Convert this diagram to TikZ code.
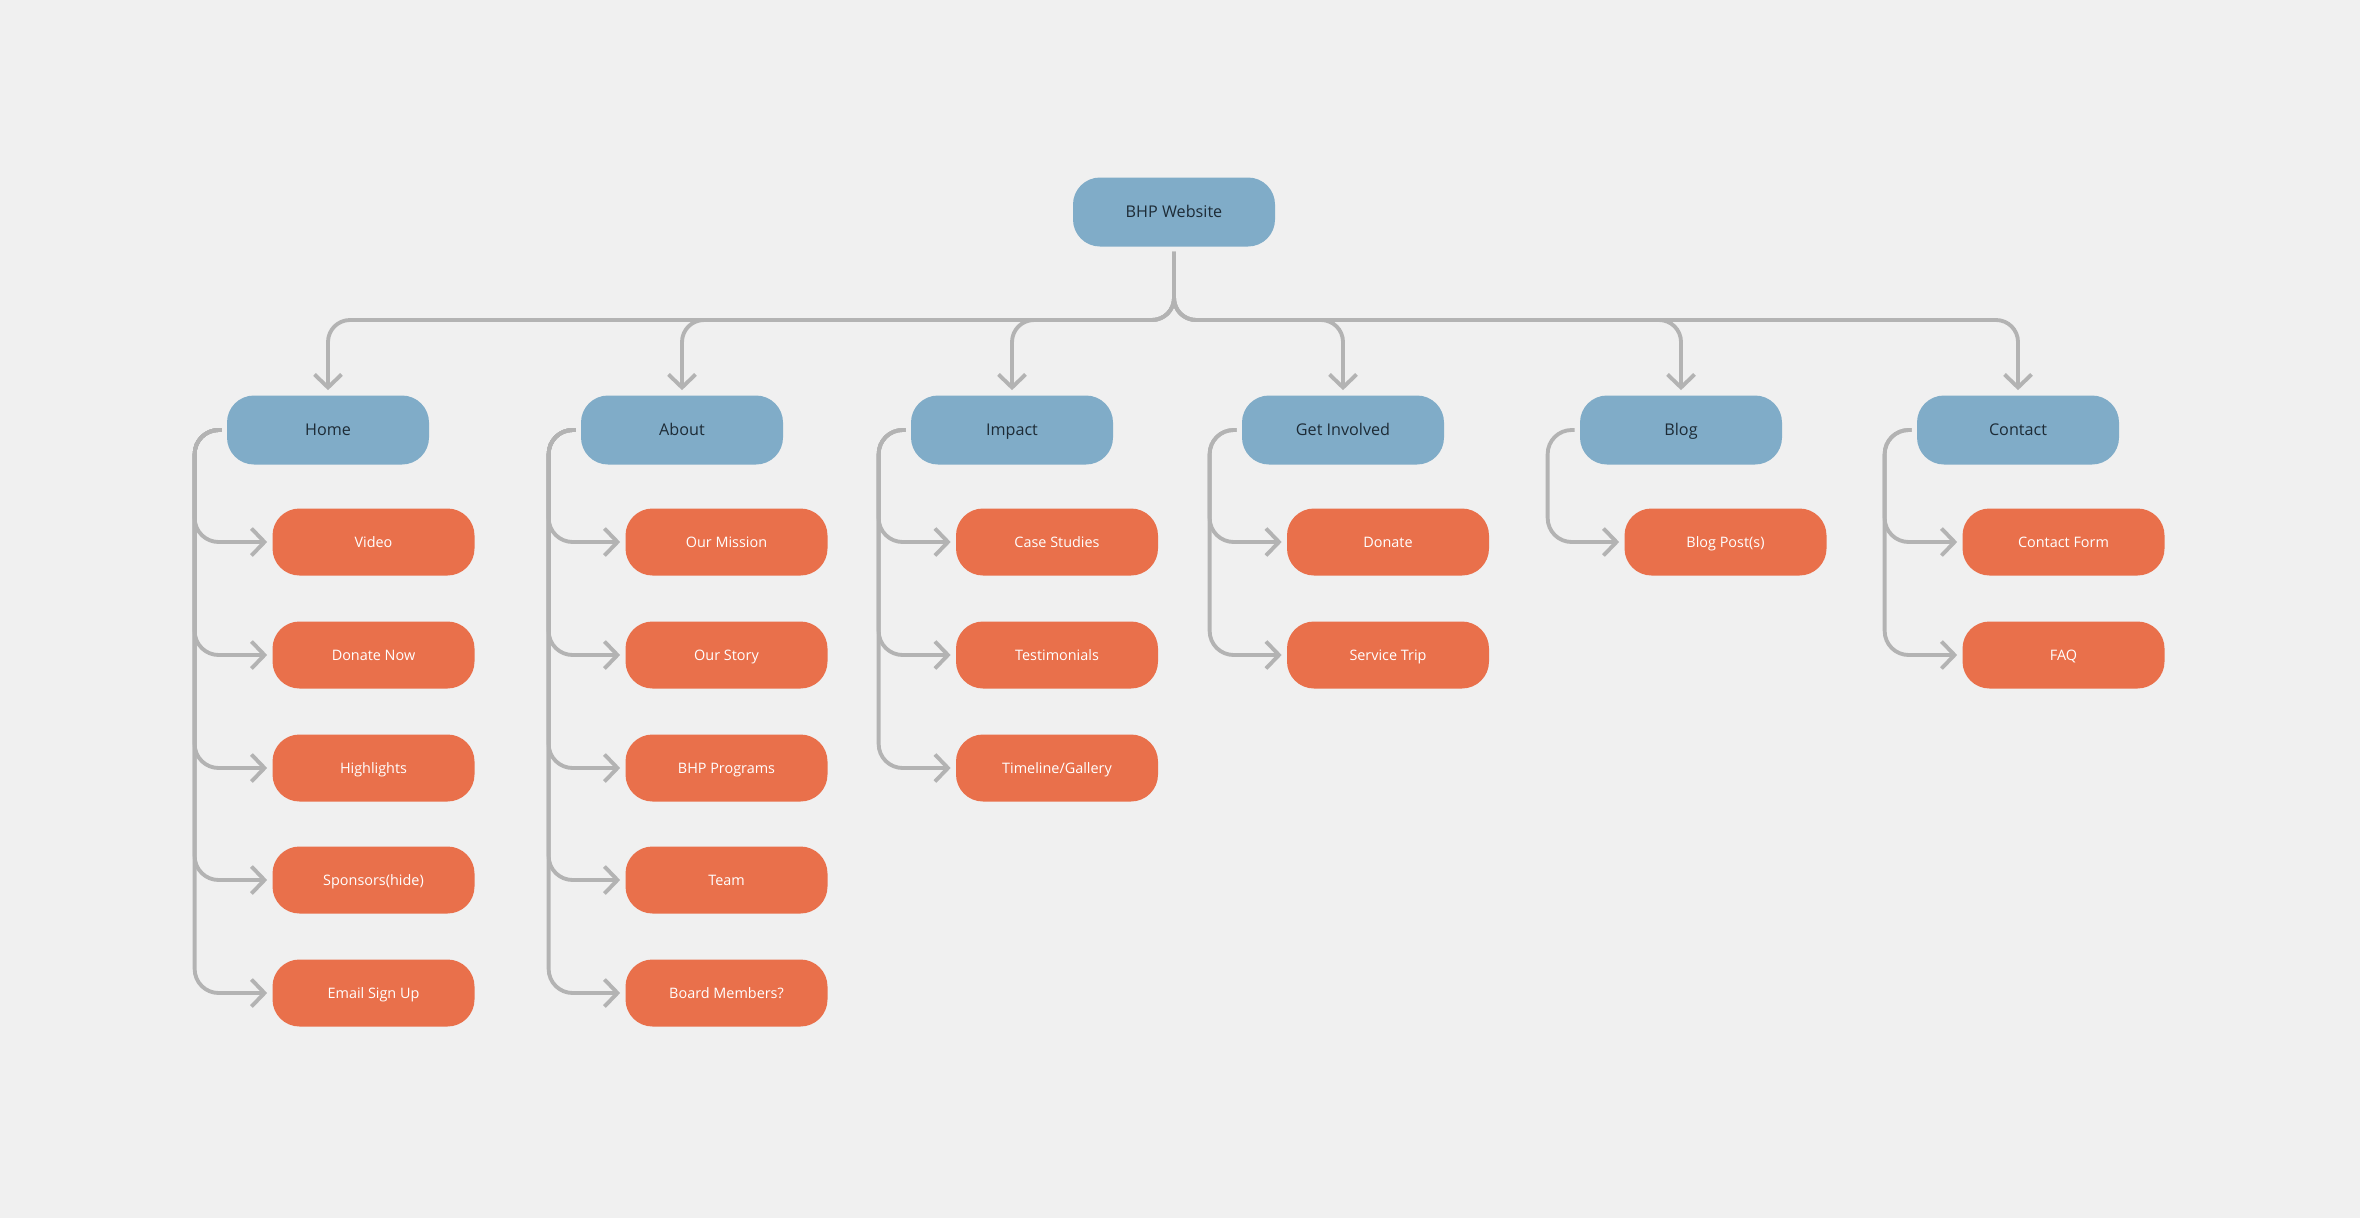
\documentclass[tikz,border=0pt]{standalone}
\usepackage{fontspec}
\setmainfont{Open Sans}
\usetikzlibrary{arrows.meta}
\definecolor{SMBack}{HTML}{F0F0F0}
\definecolor{SMBlue}{HTML}{80ACC8}
\definecolor{SMOrange}{HTML}{E9704B}
\definecolor{SMLine}{HTML}{B3B3B3}
\definecolor{SMInk}{HTML}{1D2B36}
\tikzset{
  flow/.style={-{Straight Barb[length=2.6mm,width=5.4mm]},SMLine,line width=2.2pt,
               shorten >=0.1cm,shorten <=0.1cm},
  busline/.style={flow,rounded corners=0.44cm},
  spine/.style={flow,rounded corners=0.48cm},
  section/.style={fill=SMBlue,rounded corners=0.54cm,text=SMInk,
                  minimum width=4.04cm,minimum height=1.38cm,
                  text height=1.55ex,text depth=0.4ex,
                  font=\fontsize{9.2}{11}\selectfont,align=center},
  page/.style={section,fill=SMOrange,text=white,minimum height=1.34cm,
               font=\fontsize{8.2}{10}\selectfont},
}
\begin{document}
\begin{tikzpicture}[x=2cm,y=-2cm]
  \fill[SMBack] (0,0) rectangle (23.60,12.18);
  \useasboundingbox (0,0) rectangle (23.60,12.18);

  \node[section] (root) at (11.74,2.12) {BHP Website};
  \coordinate (bus) at (11.74,3.20);

  \node[section] (home)     at (3.28,4.30)  {Home};
  \node[section] (about)    at (6.82,4.30)  {About};
  \node[section] (impact)   at (10.12,4.30) {Impact};
  \node[section] (involved) at (13.43,4.30) {Get Involved};
  \node[section] (blog)     at (16.81,4.30) {Blog};
  \node[section] (contact)  at (20.18,4.30) {Contact};

  % Home
  \node[page] (video)     at (3.735,5.42) {Video};
  \node[page] (donatenow) at (3.735,6.55) {Donate Now};
  \node[page] (highlight) at (3.735,7.68) {Highlights};
  \node[page] (sponsor)   at (3.735,8.80) {Sponsors(hide)};
  \node[page] (email)     at (3.735,9.93) {Email Sign Up};
  % About
  \node[page] (mission)   at (7.265,5.42) {Our Mission};
  \node[page] (story)     at (7.265,6.55) {Our Story};
  \node[page] (programs)  at (7.265,7.68) {BHP Programs};
  \node[page] (team)      at (7.265,8.80) {Team};
  \node[page] (board)     at (7.265,9.93) {Board Members?};
  % Impact
  \node[page] (cases)     at (10.57,5.42) {Case Studies};
  \node[page] (testim)    at (10.57,6.55) {Testimonials};
  \node[page] (timeline)  at (10.57,7.68) {Timeline/Gallery};
  % Get Involved
  \node[page] (donate)    at (13.88,5.42) {Donate};
  \node[page] (trip)      at (13.88,6.55) {Service Trip};
  % Blog
  \node[page] (posts)     at (17.255,5.42) {Blog Post(s)};
  % Contact
  \node[page] (form)      at (20.635,5.42) {Contact Form};
  \node[page] (faq)       at (20.635,6.55) {FAQ};

  % root to sections
  \draw[busline] (root.south) -- (root.south |- bus) -| (home.north);
  \draw[busline] (root.south) -- (root.south |- bus) -| (about.north);
  \draw[busline] (root.south) -- (root.south |- bus) -| (impact.north);
  \draw[busline] (root.south) -- (root.south |- bus) -| (involved.north);
  \draw[busline] (root.south) -- (root.south |- bus) -| (blog.north);
  \draw[busline] (root.south) -- (root.south |- bus) -| (contact.north);

  % sections to pages
  \draw[spine] (home.west) -- ++(-0.32,0) |- (video.west);
  \draw[spine] (home.west) -- ++(-0.32,0) |- (donatenow.west);
  \draw[spine] (home.west) -- ++(-0.32,0) |- (highlight.west);
  \draw[spine] (home.west) -- ++(-0.32,0) |- (sponsor.west);
  \draw[spine] (home.west) -- ++(-0.32,0) |- (email.west);

  \draw[spine] (about.west) -- ++(-0.32,0) |- (mission.west);
  \draw[spine] (about.west) -- ++(-0.32,0) |- (story.west);
  \draw[spine] (about.west) -- ++(-0.32,0) |- (programs.west);
  \draw[spine] (about.west) -- ++(-0.32,0) |- (team.west);
  \draw[spine] (about.west) -- ++(-0.32,0) |- (board.west);

  \draw[spine] (impact.west) -- ++(-0.32,0) |- (cases.west);
  \draw[spine] (impact.west) -- ++(-0.32,0) |- (testim.west);
  \draw[spine] (impact.west) -- ++(-0.32,0) |- (timeline.west);

  \draw[spine] (involved.west) -- ++(-0.32,0) |- (donate.west);
  \draw[spine] (involved.west) -- ++(-0.32,0) |- (trip.west);

  \draw[spine] (blog.west) -- ++(-0.32,0) |- (posts.west);

  \draw[spine] (contact.west) -- ++(-0.32,0) |- (form.west);
  \draw[spine] (contact.west) -- ++(-0.32,0) |- (faq.west);
\end{tikzpicture}
\end{document}
